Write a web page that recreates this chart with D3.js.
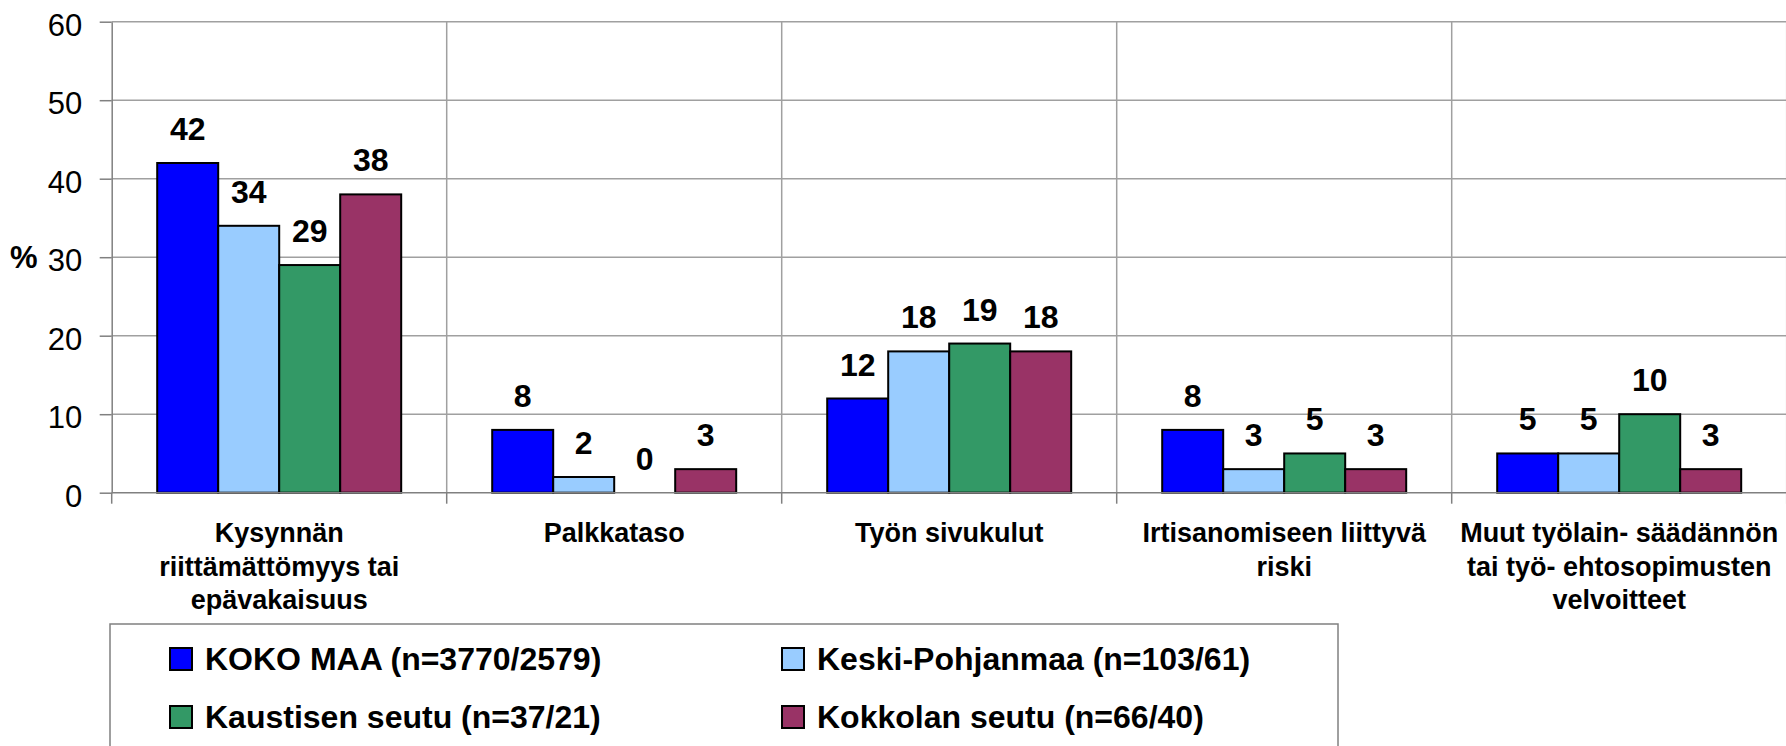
<!DOCTYPE html>
<html>
  <head>
    <meta charset="utf-8">
    <style>
      body { margin: 0; background: #fff; }
      text { font-family: "Liberation Sans", Arial, sans-serif; }
    </style>
  </head>
  <body>
    <div id="my_dataviz"></div>
  </body>
</html>

<script src="https://d3js.org/d3.v7.min.js"></script>

<script>

  // categories, one array of text lines per category (wrapped as in the original)
  var categories = ["Kysynnän", "Palkkataso", "Työn sivukulut", "Irtisanominen", "Muut"];
  var categoryLines = [
    ["Kysynnän", "riittämättömyys tai", "epävakaisuus"],
    ["Palkkataso"],
    ["Työn sivukulut"],
    ["Irtisanomiseen liittyvä", "riski"],
    ["Muut työlain- säädännön", "tai työ- ehtosopimusten", "velvoitteet"]
  ];

  // series
  var seriesNames = ["KOKO MAA (n=3770/2579)", "Keski-Pohjanmaa (n=103/61)", "Kaustisen seutu (n=37/21)", "Kokkolan seutu (n=66/40)"];
  var kokoMaa = [42, 8, 12, 8, 5];
  var keskiPohjanmaa = [34, 2, 18, 3, 5];
  var kaustinen = [29, 0, 19, 5, 10];
  var kokkola = [38, 3, 18, 3, 3];
  var seriesValues = [kokoMaa, keskiPohjanmaa, kaustinen, kokkola];
  var colors = ["#0000ff", "#99ccff", "#339966", "#993366"];

  var yTicks = [0, 10, 20, 30, 40, 50, 60];

  var W = 1786, H = 746;
  var margin = {top: 21.7, left: 111.7, bottom: 253.3, right: 0};

  var svg = d3.select("#my_dataviz")
    .append("svg")
      .attr("width", W)
      .attr("height", H);

  var x0 = d3.scaleBand()
    .domain(categories)
    .range([margin.left, margin.left + 5 * 335])
    .padding(0);

  var x1 = d3.scaleBand()
    .domain(d3.range(seriesNames.length))
    .range([0, x0.bandwidth()])
    .paddingInner(0)
    .paddingOuter(0.746);

  var y = d3.scaleLinear()
    .domain([0, 60])
    .range([H - margin.bottom, margin.top]);

  // grid lines
  svg.append("g")
    .selectAll("line")
    .data(yTicks.slice(1))
    .enter().append("line")
      .attr("x1", margin.left).attr("x2", W)
      .attr("y1", function(d) { return y(d); })
      .attr("y2", function(d) { return y(d); })
      .attr("stroke", "#a0a0a0")
      .attr("stroke-width", 1.5);

  var bounds = categories.map(function(c) { return x0(c); }).concat([x0.range()[1]]);
  svg.append("g")
    .selectAll("line")
    .data(bounds.slice(1))
    .enter().append("line")
      .attr("x1", function(d) { return d; }).attr("x2", function(d) { return d; })
      .attr("y1", y(60)).attr("y2", y(0))
      .attr("stroke", "#a0a0a0")
      .attr("stroke-width", 1.5);

  // Y axis
  var yAxis = svg.append("g")
    .attr("transform", "translate(" + margin.left + ",0)")
    .call(d3.axisLeft(y).tickValues(yTicks).tickSize(12).tickSizeOuter(0).tickPadding(17.5));
  yAxis.select(".domain").attr("stroke", "#808080").attr("stroke-width", 1.5);
  yAxis.selectAll(".tick line").attr("stroke", "#808080").attr("stroke-width", 1.5);
  yAxis.selectAll(".tick text")
    .attr("font-size", 31)
    .attr("font-family", "Liberation Sans, Arial, sans-serif")
    .attr("fill", "#000")
    .attr("dy", "0.43em");

  svg.append("text")
    .attr("x", 10).attr("y", 268)
    .attr("font-size", 31).attr("font-weight", "bold")
    .text("%");

  // Bars
  var groups = svg.append("g")
    .selectAll("g")
    .data(categories)
    .enter().append("g")
      .attr("transform", function(c) { return "translate(" + x0(c) + ",0)"; });

  groups.selectAll("rect")
    .data(function(c, i) {
      return seriesValues.map(function(vals, s) { return {s: s, v: vals[i]}; }).filter(function(d) { return d.v > 0; });
    })
    .enter().append("rect")
      .attr("x", function(d) { return x1(d.s); })
      .attr("y", function(d) { return y(d.v); })
      .attr("width", x1.bandwidth())
      .attr("height", function(d) { return y(0) - y(d.v); })
      .attr("fill", function(d) { return colors[d.s]; })
      .attr("stroke", "#000")
      .attr("stroke-width", 2);

  groups.selectAll(".val")
    .data(function(c, i) {
      return seriesValues.map(function(vals, s) { return {s: s, v: vals[i]}; });
    })
    .enter().append("text")
      .attr("class", "val")
      .attr("x", function(d) { return x1(d.s) + x1.bandwidth() / 2; })
      .attr("y", function(d) { return y(d.v) - 23; })
      .attr("text-anchor", "middle")
      .attr("font-size", 32)
      .attr("font-weight", "bold")
      .text(function(d) { return d.v; });

  // X axis
  svg.append("line")
    .attr("x1", margin.left).attr("x2", W)
    .attr("y1", y(0)).attr("y2", y(0))
    .attr("stroke", "#808080").attr("stroke-width", 1.5);
  svg.append("g")
    .selectAll("line")
    .data(bounds)
    .enter().append("line")
      .attr("x1", function(d) { return d; }).attr("x2", function(d) { return d; })
      .attr("y1", y(0)).attr("y2", y(0) + 11)
      .attr("stroke", "#808080").attr("stroke-width", 1.5);

  // category labels
  categories.forEach(function(c, i) {
    var t = svg.append("text")
      .attr("text-anchor", "middle")
      .attr("font-size", 27)
      .attr("font-weight", "bold");
    categoryLines[i].forEach(function(line, k) {
      t.append("tspan")
        .attr("x", x0(c) + x0.bandwidth() / 2)
        .attr("y", 542 + k * 33.5)
        .text(line);
    });
  });

  // legend
  var legend = svg.append("g");
  legend.append("rect")
    .attr("x", 110).attr("y", 624)
    .attr("width", 1228).attr("height", 200)
    .attr("fill", "#fff")
    .attr("stroke", "#808080").attr("stroke-width", 1.5);

  var legX = [170, 782], legY = [670, 728];
  seriesNames.forEach(function(name, s) {
    var lx = legX[s % 2], ly = legY[Math.floor(s / 2)];
    legend.append("rect")
      .attr("x", lx).attr("y", ly - 22)
      .attr("width", 22).attr("height", 22)
      .attr("fill", colors[s])
      .attr("stroke", "#000").attr("stroke-width", 2);
    legend.append("text")
      .attr("x", lx + 35).attr("y", ly)
      .attr("font-size", 32)
      .attr("font-weight", "bold")
      .text(name);
  });

</script>
